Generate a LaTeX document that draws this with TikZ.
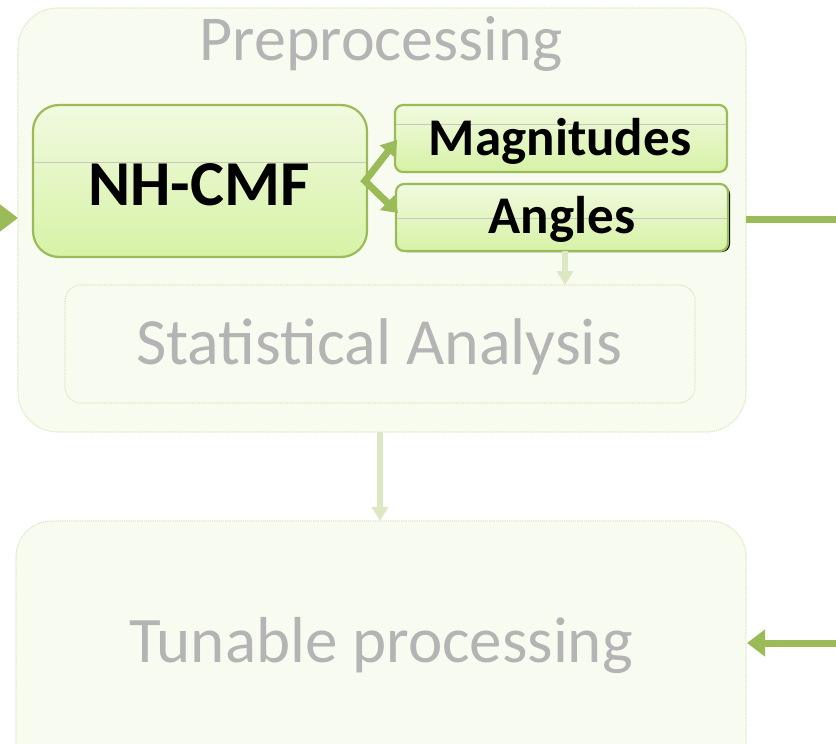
\documentclass[tikz,border=0pt]{standalone}
\usepackage{fontspec}
\setmainfont{Carlito}
\usetikzlibrary{arrows.meta}
\definecolor{olivegreen}{HTML}{9BBB59}
\definecolor{paleframe}{HTML}{DCE8C4}
\definecolor{palefill}{HTML}{F8FCF0}
\definecolor{fadetext}{HTML}{B4B4B4}
\definecolor{gtop}{HTML}{F1FADF}
\definecolor{gbot}{HTML}{D7F2A6}
\tikzset{
  fadedbox/.style={draw=paleframe, densely dotted, line width=1.2pt, fill=palefill},
  fadedlabel/.style={text=fadetext},
  greenbox/.style={draw=olivegreen, line width=2.2pt, top color=gtop, bottom color=gbot},
  greenarrow/.style={draw=olivegreen, line width=7pt, -{Triangle[length=18pt,width=26pt]}},
  splitarrow/.style={draw=olivegreen, line width=7pt, -{Triangle[length=15pt,width=20pt]}},
  fadedarrow/.style={draw=paleframe, line width=6pt, -{Triangle[length=14pt,width=16pt]}},
  glossline/.style={draw=gray!45, line width=0.6pt}
}
\begin{document}
\begin{tikzpicture}[x=1pt,y=-1pt]
\useasboundingbox (0,0) rectangle (836,744);
\clip (0,0) rectangle (836,744);
\fill[white] (0,0) rectangle (836,744);

% outer preprocessing frame
\draw[fadedbox, rounded corners=40pt] (18,8) rectangle (746,432);
\coordinate (preW) at (18,218);
\coordinate (preE) at (746,219);
\coordinate (preS) at (380,432);
\node[fadedlabel, font=\fontsize{64}{64}\selectfont] (pretitle) at (381,44) {Preprocessing};

% statistical analysis
\draw[fadedbox, rounded corners=16pt] (65,285) rectangle (695,403);
\coordinate (statN) at (565,285);
\node[fadedlabel, font=\fontsize{66}{66}\selectfont] (stat) at (379,347) {Statistical Analysis};

% tunable processing
\draw[fadedbox, rounded corners=36pt] (16,521) rectangle (746,780);
\coordinate (tunN) at (380,521);
\coordinate (tunE) at (747,643);
\node[fadedlabel, font=\fontsize{65}{65}\selectfont] (tun) at (381,646) {Tunable processing};

% NH-CMF block
\draw[greenbox, rounded corners=26pt] (33,105) rectangle (367,257);
\draw[glossline] (34,162) -- (366,162);
\node[font=\bfseries\fontsize{64}{64}\selectfont] (nh) at (199,185) {NH-CMF};
\coordinate (nhE) at (365,181);

% magnitudes block
\draw[greenbox, rounded corners=8pt] (395,105) rectangle (727,172);
\draw[glossline] (396,124) -- (726,124);
\node[font=\bfseries\fontsize{53}{53}\selectfont] (mag) at (560,141) {Magnitudes};
\coordinate (magW) at (397,140);

% angles block with a slim shadow
\fill[black, rounded corners=8pt] (399,186) rectangle (730,252);
\draw[greenbox, rounded corners=8pt] (396,184) rectangle (728,251);
\draw[glossline] (397,218) -- (727,218);
\node[font=\bfseries\fontsize{53}{53}\selectfont] (ang) at (562,219) {Angles};
\coordinate (angW) at (398,213);
\coordinate (angS) at (565,251);

% connectors
\coordinate (inL) at (-20,218);
\coordinate (outR) at (850,219);
\coordinate (inR) at (850,643);
\draw[greenarrow] (inL) -- (preW);
\draw[splitarrow, shorten <=-3pt] (nhE) -- (magW);
\draw[splitarrow, shorten <=-3pt] (nhE) -- (angW);
\draw[olivegreen, line width=7pt] (preE) -- (outR);
\draw[greenarrow] (inR) -- (tunE);
\draw[fadedarrow] (angS) -- (statN);
\draw[fadedarrow] (preS) -- (tunN);
\end{tikzpicture}
\end{document}
